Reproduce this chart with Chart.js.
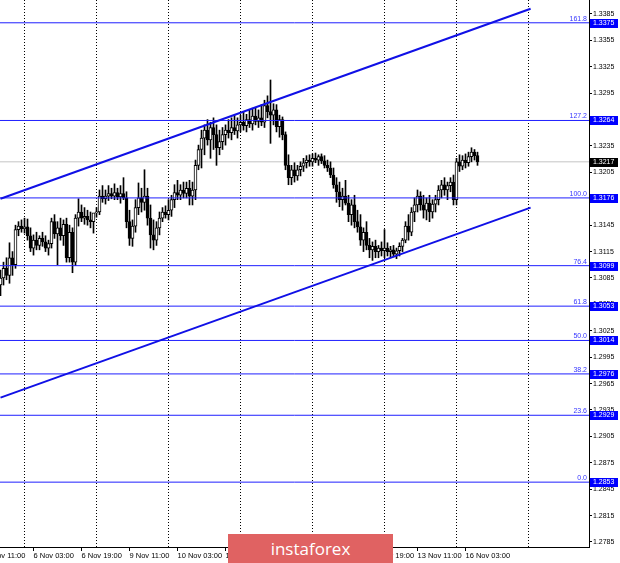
<!DOCTYPE html>
<html>
<head>
<meta charset="utf-8">
<script src="https://cdn.jsdelivr.net/npm/chart.js@4/dist/chart.umd.min.js"></script>
<style>
  html, body { margin: 0; padding: 0; background: #fff; }
  #wrap { position: relative; width: 620px; height: 563px; overflow: hidden; }
  #logo {
    position: absolute; left: 228px; top: 534px; width: 165px; height: 29px;
    background: #e06262; color: #fff; text-align: center;
    font: 17px "Open Sans", sans-serif; line-height: 29px;
  }
</style>
</head>
<body>
<div id="wrap">
  <canvas id="chart" width="620" height="563"></canvas>
  <div id="logo">instaforex</div>
</div>
<script>
// H1 bars, bar 0 = 5 Nov 16:00 (weekend hours skipped)
const opens = [
  1.3077, 1.3085, 1.3096, 1.3088, 1.3108, 1.3100, 1.3140, 1.3144, 1.3141, 1.3143,
  1.3133, 1.3119, 1.3128, 1.3122, 1.3130, 1.3126, 1.3119, 1.3124, 1.3149, 1.3135,
  1.3142, 1.3133, 1.3146, 1.3108, 1.3137, 1.3103, 1.3153, 1.3160, 1.3153, 1.3155,
  1.3151, 1.3149, 1.3159, 1.3160, 1.3178, 1.3175, 1.3178, 1.3181, 1.3178, 1.3182,
  1.3177, 1.3181, 1.3176, 1.3149, 1.3130, 1.3144, 1.3165, 1.3176, 1.3171, 1.3178,
  1.3153, 1.3134, 1.3128, 1.3142, 1.3153, 1.3160, 1.3157, 1.3162, 1.3174, 1.3182,
  1.3179, 1.3185, 1.3181, 1.3187, 1.3178, 1.3185, 1.3213, 1.3231, 1.3244, 1.3253,
  1.3242, 1.3256, 1.3248, 1.3233, 1.3240, 1.3248, 1.3253, 1.3250, 1.3256, 1.3252,
  1.3259, 1.3262, 1.3258, 1.3265, 1.3260, 1.3269, 1.3263, 1.3267, 1.3262, 1.3281,
  1.3274, 1.3270, 1.3276, 1.3257, 1.3265, 1.3248, 1.3213, 1.3199, 1.3208, 1.3201,
  1.3208, 1.3212, 1.3216, 1.3219, 1.3217, 1.3221, 1.3219, 1.3223, 1.3218, 1.3213,
  1.3210, 1.3202, 1.3191, 1.3183, 1.3174, 1.3178, 1.3170, 1.3157, 1.3168, 1.3149,
  1.3143, 1.3128, 1.3137, 1.3122, 1.3117, 1.3121, 1.3115, 1.3119, 1.3116, 1.3119,
  1.3115, 1.3117, 1.3112, 1.3116, 1.3121, 1.3128, 1.3144, 1.3137, 1.3160, 1.3168,
  1.3178, 1.3168, 1.3162, 1.3170, 1.3160, 1.3169, 1.3174, 1.3185, 1.3191, 1.3185,
  1.3190, 1.3194, 1.3174, 1.3217, 1.3212, 1.3219, 1.3216, 1.3223, 1.3228, 1.3224
];
const highs = [
  1.3094, 1.3103, 1.3108, 1.3125, 1.3115, 1.3145, 1.3149, 1.3151, 1.3153, 1.3152,
  1.3142, 1.3134, 1.3137, 1.3133, 1.3137, 1.3133, 1.3128, 1.3153, 1.3157, 1.3149,
  1.3153, 1.3151, 1.3153, 1.3145, 1.3142, 1.3157, 1.3175, 1.3168, 1.3165, 1.3162,
  1.3160, 1.3158, 1.3165, 1.3185, 1.3190, 1.3185, 1.3190, 1.3187, 1.3192, 1.3187,
  1.3190, 1.3199, 1.3183, 1.3162, 1.3151, 1.3174, 1.3193, 1.3187, 1.3208, 1.3187,
  1.3168, 1.3151, 1.3149, 1.3160, 1.3165, 1.3167, 1.3174, 1.3179, 1.3191, 1.3196,
  1.3191, 1.3194, 1.3194, 1.3196, 1.3194, 1.3219, 1.3236, 1.3253, 1.3259, 1.3265,
  1.3262, 1.3267, 1.3259, 1.3253, 1.3256, 1.3259, 1.3265, 1.3267, 1.3270, 1.3267,
  1.3270, 1.3274, 1.3271, 1.3276, 1.3278, 1.3278, 1.3276, 1.3282, 1.3287, 1.3292,
  1.3310, 1.3283, 1.3282, 1.3270, 1.3268, 1.3251, 1.3225, 1.3213, 1.3216, 1.3213,
  1.3217, 1.3221, 1.3224, 1.3225, 1.3226, 1.3227, 1.3225, 1.3226, 1.3224, 1.3219,
  1.3217, 1.3210, 1.3199, 1.3194, 1.3187, 1.3196, 1.3179, 1.3174, 1.3179, 1.3162,
  1.3157, 1.3142, 1.3149, 1.3130, 1.3126, 1.3128, 1.3122, 1.3126, 1.3140, 1.3125,
  1.3121, 1.3122, 1.3119, 1.3125, 1.3130, 1.3149, 1.3157, 1.3165, 1.3176, 1.3185,
  1.3183, 1.3179, 1.3176, 1.3179, 1.3174, 1.3179, 1.3190, 1.3196, 1.3199, 1.3194,
  1.3199, 1.3202, 1.3221, 1.3225, 1.3224, 1.3226, 1.3228, 1.3233, 1.3231, 1.3228
];
const lows = [
  1.3065, 1.3077, 1.3083, 1.3079, 1.3088, 1.3096, 1.3133, 1.3137, 1.3136, 1.3128,
  1.3115, 1.3111, 1.3117, 1.3117, 1.3121, 1.3115, 1.3111, 1.3119, 1.3130, 1.3100,
  1.3128, 1.3122, 1.3103, 1.3103, 1.3091, 1.3099, 1.3144, 1.3149, 1.3146, 1.3145,
  1.3142, 1.3136, 1.3154, 1.3157, 1.3171, 1.3169, 1.3173, 1.3175, 1.3174, 1.3174,
  1.3170, 1.3174, 1.3142, 1.3122, 1.3121, 1.3137, 1.3157, 1.3160, 1.3162, 1.3145,
  1.3119, 1.3117, 1.3122, 1.3134, 1.3149, 1.3153, 1.3151, 1.3155, 1.3165, 1.3174,
  1.3174, 1.3176, 1.3176, 1.3168, 1.3168, 1.3174, 1.3208, 1.3210, 1.3225, 1.3236,
  1.3221, 1.3231, 1.3213, 1.3225, 1.3231, 1.3236, 1.3244, 1.3242, 1.3248, 1.3244,
  1.3251, 1.3253, 1.3251, 1.3256, 1.3253, 1.3259, 1.3256, 1.3258, 1.3256, 1.3267,
  1.3238, 1.3259, 1.3251, 1.3245, 1.3242, 1.3208, 1.3191, 1.3191, 1.3194, 1.3196,
  1.3201, 1.3206, 1.3210, 1.3212, 1.3212, 1.3216, 1.3213, 1.3215, 1.3210, 1.3206,
  1.3199, 1.3187, 1.3171, 1.3166, 1.3162, 1.3168, 1.3149, 1.3145, 1.3142, 1.3137,
  1.3122, 1.3115, 1.3117, 1.3108, 1.3105, 1.3108, 1.3108, 1.3110, 1.3108, 1.3110,
  1.3108, 1.3109, 1.3107, 1.3110, 1.3115, 1.3125, 1.3128, 1.3133, 1.3149, 1.3160,
  1.3162, 1.3153, 1.3151, 1.3149, 1.3153, 1.3160, 1.3168, 1.3176, 1.3179, 1.3174,
  1.3183, 1.3168, 1.3168, 1.3206, 1.3208, 1.3210, 1.3212, 1.3217, 1.3219, 1.3213
];
const closes = [
  1.3085, 1.3096, 1.3088, 1.3108, 1.3100, 1.3140, 1.3144, 1.3141, 1.3143, 1.3133,
  1.3119, 1.3128, 1.3122, 1.3130, 1.3126, 1.3119, 1.3124, 1.3149, 1.3135, 1.3142,
  1.3133, 1.3146, 1.3108, 1.3137, 1.3103, 1.3153, 1.3160, 1.3153, 1.3155, 1.3151,
  1.3149, 1.3159, 1.3160, 1.3178, 1.3175, 1.3178, 1.3181, 1.3178, 1.3182, 1.3177,
  1.3181, 1.3176, 1.3149, 1.3130, 1.3144, 1.3165, 1.3176, 1.3171, 1.3178, 1.3153,
  1.3134, 1.3128, 1.3142, 1.3153, 1.3160, 1.3157, 1.3162, 1.3174, 1.3182, 1.3179,
  1.3185, 1.3181, 1.3187, 1.3178, 1.3185, 1.3213, 1.3231, 1.3244, 1.3253, 1.3242,
  1.3256, 1.3248, 1.3233, 1.3240, 1.3248, 1.3253, 1.3250, 1.3256, 1.3252, 1.3259,
  1.3262, 1.3258, 1.3265, 1.3260, 1.3269, 1.3263, 1.3267, 1.3262, 1.3281, 1.3274,
  1.3270, 1.3276, 1.3257, 1.3265, 1.3248, 1.3213, 1.3199, 1.3208, 1.3201, 1.3208,
  1.3212, 1.3216, 1.3219, 1.3217, 1.3221, 1.3219, 1.3223, 1.3218, 1.3213, 1.3210,
  1.3202, 1.3191, 1.3183, 1.3174, 1.3178, 1.3170, 1.3157, 1.3168, 1.3149, 1.3143,
  1.3128, 1.3137, 1.3122, 1.3117, 1.3121, 1.3115, 1.3119, 1.3116, 1.3119, 1.3115,
  1.3117, 1.3112, 1.3116, 1.3121, 1.3128, 1.3144, 1.3137, 1.3160, 1.3168, 1.3178,
  1.3168, 1.3162, 1.3170, 1.3160, 1.3169, 1.3174, 1.3185, 1.3191, 1.3185, 1.3190,
  1.3194, 1.3174, 1.3217, 1.3212, 1.3219, 1.3216, 1.3223, 1.3228, 1.3224, 1.3217
];

// Fibonacci levels and their names
const fibLevels = [1.3375, 1.3264, 1.3176, 1.3099, 1.3053, 1.3014, 1.2976, 1.2929, 1.2853];
const fibLabels = ['161.8', '127.2', '100.0', '76.4', '61.8', '50.0', '38.2', '23.6', '0.0'];
const lastPrice = 1.3217;

// Channel lines (bar index -> price)
const channelBars = [0, 176.7];
const upperChannel = [1.3175, 1.3391];
const lowerChannel = [1.2949, 1.3165];

// Axis ticks
const timeTickBars = [-5, 11, 27, 43, 59, 75, 91, 107, 123, 139, 155];
const timeTickLabels = ['5 Nov 11:00', '6 Nov 03:00', '6 Nov 19:00', '9 Nov 11:00', '10 Nov 03:00',
  '10 Nov 19:00', '11 Nov 11:00', '12 Nov 03:00', '12 Nov 19:00', '13 Nov 11:00', '16 Nov 03:00'];
const dayBars = [8, 32, 56, 80, 104, 128, 152, 176];
const priceTicks = [1.3385, 1.3355, 1.3325, 1.3295, 1.3265, 1.3235, 1.3205, 1.3175, 1.3145, 1.3115,
  1.3085, 1.3055, 1.3025, 1.2995, 1.2965, 1.2935, 1.2905, 1.2875, 1.2845, 1.2815, 1.2785];

// visible window
const X_MIN = -1 / 6, X_MAX = X_MIN + 589 / 3;
const Y_MIN = 1.27793, Y_MAX = 1.34009;

const BLUE = '#1f1fff';
const FONT = 'Liberation Sans';

// level lines
const levelSets = fibLevels.map(v => ({
    type: 'line',
    data: [{ x: X_MIN, y: v }, { x: X_MAX, y: v }],
    borderColor: BLUE,
    borderWidth: 1,
    pointRadius: 0,
    order: 1
}));

// price tags on the right axis
const priceTags = {
    id: 'priceTags',
    afterDraw(chart) {
        const { ctx, chartArea } = chart;
        const y = chart.scales.y;
        ctx.save();
        ctx.font = '7px "' + FONT + '"';
        fibLevels.forEach((v, k) => {
            const py = y.getPixelForValue(v);
            ctx.fillStyle = '#0000ff';
            ctx.fillRect(chartArea.right + 1, Math.round(py) - 4, 28, 9);
            ctx.fillStyle = '#fff';
            ctx.textAlign = 'left';
            ctx.textBaseline = 'middle';
            ctx.fillText(v.toFixed(4), chartArea.right + 4, Math.round(py) + 0.5);
            ctx.fillStyle = '#3535ff';
            ctx.textAlign = 'right';
            ctx.textBaseline = 'bottom';
            ctx.fillText(fibLabels[k], chartArea.right - 2, py - 0.5);
        });
        const pp = Math.round(y.getPixelForValue(lastPrice));
        ctx.fillStyle = '#000';
        ctx.fillRect(chartArea.right + 1, pp - 4, 28, 9);
        ctx.fillStyle = '#fff';
        ctx.textAlign = 'left';
        ctx.textBaseline = 'middle';
        ctx.fillText(lastPrice.toFixed(4), chartArea.right + 4, pp + 0.5);
        ctx.restore();
    }
};

new Chart(document.getElementById('chart'), {
    type: 'bar',
    data: {
        datasets: [
            {
                type: 'line',
                data: channelBars.map((b, i) => ({ x: b, y: upperChannel[i] })),
                borderColor: '#1010e6',
                borderWidth: 2,
                pointRadius: 0,
                order: 0
            },
            {
                type: 'line',
                data: channelBars.map((b, i) => ({ x: b, y: lowerChannel[i] })),
                borderColor: '#1010e6',
                borderWidth: 2,
                pointRadius: 0,
                order: 0
            },
            ...levelSets,
            {
                type: 'line',
                data: [{ x: X_MIN, y: lastPrice }, { x: X_MAX, y: lastPrice }],
                borderColor: '#c4c4c4',
                borderWidth: 1,
                pointRadius: 0,
                order: 5
            },
            {
                // bodies
                data: opens.map((o, i) => ({ x: i, y: [o, closes[i]] })),
                backgroundColor: ctx => closes[ctx.dataIndex] >= opens[ctx.dataIndex] ? '#ffffff' : '#000000',
                borderColor: '#000',
                borderWidth: 1,
                borderSkipped: false,
                barThickness: 3,
                minBarLength: 1,
                grouped: false,
                order: 3
            },
            {
                // wicks
                data: highs.map((h, i) => ({ x: i, y: [lows[i], h] })),
                backgroundColor: '#000',
                borderWidth: 0,
                barThickness: 1,
                grouped: false,
                order: 4
            }
        ]
    },
    options: {
        responsive: false,
        animation: false,
        devicePixelRatio: 1,
        layout: { padding: 0 },
        plugins: {
            legend: { display: false },
            tooltip: { enabled: false }
        },
        scales: {
            x: {
                type: 'linear',
                position: 'bottom',
                min: X_MIN,
                max: X_MAX,
                bounds: 'data',
                offset: false,
                afterBuildTicks: s => { s.ticks = timeTickBars.map(v => ({ value: v })); },
                afterFit: s => { s.height = 16; s.paddingLeft = 0; s.paddingRight = 0; },
                grid: { offset: false, drawOnChartArea: false, drawTicks: true, tickLength: 4, color: '#000' },
                border: { display: true, color: '#000' },
                ticks: {
                    autoSkip: false,
                    maxRotation: 0,
                    align: 'start',
                    padding: 0,
                    color: '#000',
                    font: { family: FONT, size: 7.5 },
                    callback: (v, k) => timeTickLabels[k]
                }
            },
            xg: {
                type: 'linear',
                position: 'bottom',
                min: X_MIN,
                max: X_MAX,
                bounds: 'data',
                offset: false,
                afterBuildTicks: s => { s.ticks = dayBars.map(v => ({ value: v })); },
                afterFit: s => { s.height = 0; s.paddingLeft = 0; s.paddingRight = 0; },
                grid: { offset: false, drawTicks: false, color: '#000', lineWidth: 1 },
                border: { display: false, dash: [1, 2] },
                ticks: { display: false }
            },
            y: {
                type: 'linear',
                position: 'right',
                min: Y_MIN,
                max: Y_MAX,
                bounds: 'data',
                afterBuildTicks: s => { s.ticks = priceTicks.map(v => ({ value: v })); },
                afterFit: s => { s.width = 31; s.paddingTop = 0; s.paddingBottom = 0; },
                grid: { drawOnChartArea: false, drawTicks: true, tickLength: 3, color: '#000' },
                border: { display: true, color: '#000' },
                ticks: {
                    autoSkip: false,
                    padding: 1,
                    color: '#000',
                    font: { family: FONT, size: 7 },
                    callback: v => v.toFixed(4)
                }
            }
        }
    },
    plugins: [priceTags]
});
</script>
</body>
</html>
